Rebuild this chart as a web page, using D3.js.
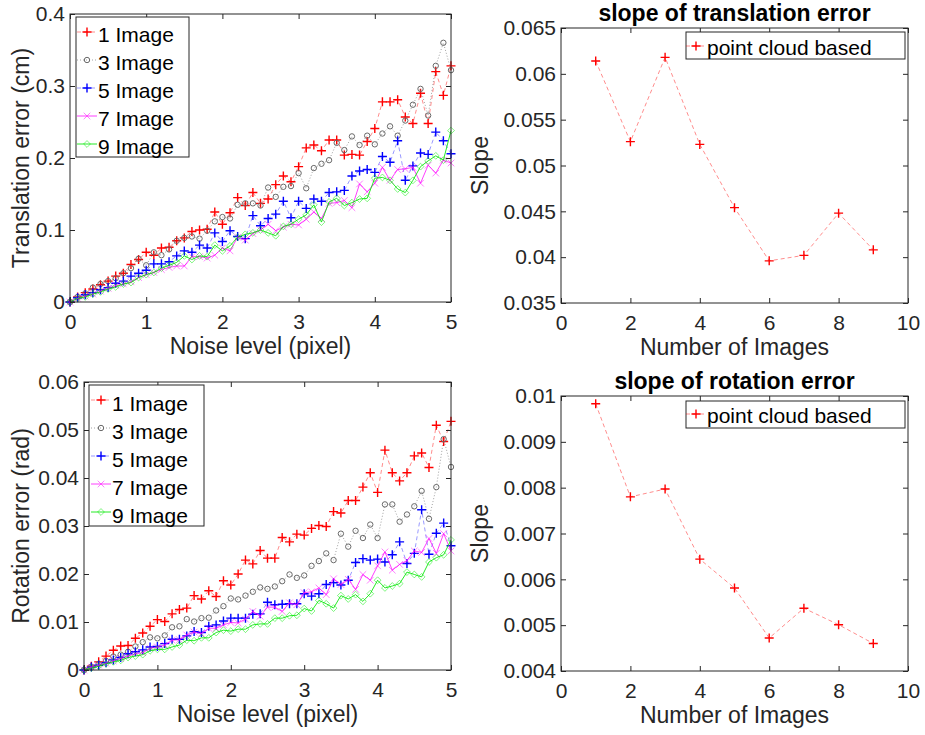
<!DOCTYPE html>
<html>
<head>
<meta charset="utf-8">
<script src="https://cdn.jsdelivr.net/npm/d3@7"></script>
<style>
body { margin: 0; background: #fff; }
svg { display: block; font-family: "Liberation Sans", Arial, sans-serif; }
</style>
</head>
<body>
<div id="chart"></div>
<script>
/*
*    four panels: error vs noise, slope vs number of images
*/

// noise levels (pixel)
const noiseLevel = [0, 0.1, 0.2, 0.3, 0.4, 0.5, 0.6, 0.7, 0.8, 0.9, 1.0,
	1.1, 1.2, 1.3, 1.4, 1.5, 1.6, 1.7, 1.8, 1.9, 2.0,
	2.1, 2.2, 2.3, 2.4, 2.5, 2.6, 2.7, 2.8, 2.9, 3.0,
	3.1, 3.2, 3.3, 3.4, 3.5, 3.6, 3.7, 3.8, 3.9, 4.0,
	4.1, 4.2, 4.3, 4.4, 4.5, 4.6, 4.7, 4.8, 4.9, 5.0];

const seriesNames = ["1 Image", "3 Image", "5 Image", "7 Image", "9 Image"];

// translation error (cm)
const trans1 = [0, 0.007, 0.013, 0.018, 0.024, 0.029, 0.036, 0.040, 0.052, 0.059, 0.069,
	0.065, 0.075, 0.076, 0.085, 0.089, 0.098, 0.100, 0.101, 0.125, 0.108,
	0.124, 0.145, 0.134, 0.152, 0.137, 0.143, 0.163, 0.175, 0.167, 0.188,
	0.214, 0.218, 0.210, 0.225, 0.225, 0.204, 0.205, 0.204, 0.223, 0.241,
	0.278, 0.278, 0.281, 0.257, 0.248, 0.290, 0.248, 0.320, 0.287, 0.328];
const trans3 = [0, 0.007, 0.012, 0.020, 0.025, 0.029, 0.033, 0.040, 0.047, 0.060, 0.051,
	0.069, 0.065, 0.073, 0.085, 0.089, 0.091, 0.088, 0.099, 0.112, 0.118,
	0.116, 0.135, 0.137, 0.137, 0.134, 0.159, 0.146, 0.160, 0.161, 0.179,
	0.158, 0.186, 0.192, 0.197, 0.221, 0.211, 0.230, 0.218, 0.231, 0.219,
	0.234, 0.244, 0.231, 0.252, 0.274, 0.296, 0.259, 0.328, 0.360, 0.322];
const trans5 = [0, 0.006, 0.010, 0.013, 0.017, 0.020, 0.026, 0.029, 0.036, 0.040, 0.044,
	0.053, 0.053, 0.056, 0.064, 0.071, 0.069, 0.079, 0.075, 0.096, 0.084,
	0.099, 0.091, 0.088, 0.120, 0.106, 0.116, 0.122, 0.140, 0.117, 0.140,
	0.130, 0.143, 0.140, 0.152, 0.153, 0.155, 0.175, 0.182, 0.184, 0.180,
	0.202, 0.194, 0.224, 0.169, 0.189, 0.207, 0.205, 0.236, 0.224, 0.206];
const trans7 = [0, 0.005, 0.008, 0.011, 0.015, 0.019, 0.023, 0.025, 0.028, 0.034, 0.038,
	0.041, 0.045, 0.048, 0.050, 0.050, 0.063, 0.063, 0.061, 0.065, 0.075,
	0.071, 0.090, 0.086, 0.095, 0.100, 0.108, 0.099, 0.104, 0.108, 0.107,
	0.115, 0.125, 0.116, 0.137, 0.138, 0.141, 0.131, 0.164, 0.153, 0.165,
	0.187, 0.169, 0.184, 0.185, 0.187, 0.165, 0.190, 0.179, 0.197, 0.193];
const trans9 = [0, 0.005, 0.007, 0.011, 0.014, 0.018, 0.021, 0.025, 0.027, 0.034, 0.038,
	0.041, 0.047, 0.051, 0.055, 0.064, 0.059, 0.064, 0.063, 0.079, 0.071,
	0.078, 0.090, 0.094, 0.096, 0.100, 0.096, 0.092, 0.105, 0.108, 0.115,
	0.121, 0.135, 0.111, 0.139, 0.144, 0.134, 0.138, 0.143, 0.144, 0.172,
	0.173, 0.169, 0.157, 0.152, 0.169, 0.188, 0.196, 0.203, 0.197, 0.238];

// rotation error (rad)
const rot1 = [0, 0.0008, 0.0017, 0.0029, 0.0041, 0.0050, 0.0051, 0.0066, 0.0077, 0.0091, 0.0105,
	0.0101, 0.0117, 0.0126, 0.0129, 0.0155, 0.0148, 0.0165, 0.0153, 0.0186, 0.0177,
	0.0200, 0.0229, 0.0221, 0.0249, 0.0233, 0.0233, 0.0276, 0.0267, 0.0283, 0.0281,
	0.0295, 0.0301, 0.0299, 0.0330, 0.0327, 0.0353, 0.0353, 0.0381, 0.0411, 0.0370,
	0.0458, 0.0411, 0.0394, 0.0411, 0.0446, 0.0452, 0.0422, 0.0510, 0.0476, 0.0518];
const rot3 = [0, 0.0007, 0.0013, 0.0019, 0.0028, 0.0032, 0.0038, 0.0049, 0.0058, 0.0068, 0.0066,
	0.0072, 0.0089, 0.0091, 0.0106, 0.0101, 0.0108, 0.0109, 0.0124, 0.0133, 0.0149,
	0.0147, 0.0155, 0.0163, 0.0172, 0.0169, 0.0174, 0.0185, 0.0199, 0.0192, 0.0197,
	0.0217, 0.0227, 0.0243, 0.0229, 0.0284, 0.0257, 0.0290, 0.0275, 0.0303, 0.0275,
	0.0345, 0.0345, 0.0309, 0.0324, 0.0341, 0.0373, 0.0315, 0.0381, 0.0481, 0.0423];
const rot5 = [0, 0.0006, 0.0010, 0.0015, 0.0021, 0.0026, 0.0034, 0.0038, 0.0042, 0.0048, 0.0049,
	0.0055, 0.0064, 0.0064, 0.0071, 0.0080, 0.0078, 0.0091, 0.0094, 0.0102, 0.0108,
	0.0108, 0.0108, 0.0116, 0.0117, 0.0141, 0.0136, 0.0137, 0.0138, 0.0138, 0.0159,
	0.0154, 0.0159, 0.0178, 0.0182, 0.0177, 0.0187, 0.0224, 0.0232, 0.0229, 0.0231,
	0.0225, 0.0240, 0.0267, 0.0222, 0.0243, 0.0334, 0.0241, 0.0285, 0.0306, 0.0259];
const rot7 = [0, 0.0006, 0.0010, 0.0014, 0.0019, 0.0024, 0.0029, 0.0034, 0.0036, 0.0045, 0.0048,
	0.0052, 0.0062, 0.0063, 0.0073, 0.0079, 0.0076, 0.0087, 0.0087, 0.0094, 0.0099,
	0.0098, 0.0106, 0.0122, 0.0112, 0.0131, 0.0131, 0.0122, 0.0140, 0.0136, 0.0161,
	0.0163, 0.0171, 0.0157, 0.0190, 0.0178, 0.0189, 0.0168, 0.0199, 0.0187, 0.0217,
	0.0246, 0.0208, 0.0220, 0.0228, 0.0248, 0.0245, 0.0274, 0.0243, 0.0284, 0.0248];
const rot9 = [0, 0.0004, 0.0008, 0.0013, 0.0017, 0.0020, 0.0026, 0.0029, 0.0032, 0.0040, 0.0043,
	0.0043, 0.0048, 0.0052, 0.0062, 0.0061, 0.0067, 0.0067, 0.0078, 0.0083, 0.0081,
	0.0085, 0.0085, 0.0094, 0.0096, 0.0096, 0.0108, 0.0108, 0.0113, 0.0114, 0.0128,
	0.0123, 0.0145, 0.0138, 0.0129, 0.0155, 0.0148, 0.0157, 0.0143, 0.0159, 0.0187,
	0.0171, 0.0175, 0.0180, 0.0204, 0.0199, 0.0194, 0.0225, 0.0234, 0.0240, 0.0271];

// slopes vs number of images
const numImages = [1, 2, 3, 4, 5, 6, 7, 8, 9];
const slopeTrans = [0.0614, 0.0526, 0.0618, 0.0523, 0.0454, 0.0396, 0.0402, 0.0448, 0.0408];
const slopeRot = [0.00983, 0.00780, 0.00797, 0.00644, 0.00581, 0.00472, 0.00537, 0.00501, 0.00460];

// tick labels
const noiseTicks = [0, 1, 2, 3, 4, 5];
const imageTicks = [0, 2, 4, 6, 8, 10];
const transTicks = [0, 0.1, 0.2, 0.3, 0.4];
const rotTicks = [0, 0.01, 0.02, 0.03, 0.04, 0.05, 0.06];
const slopeTransTicks = [0.035, 0.04, 0.045, 0.05, 0.055, 0.06, 0.065];
const slopeRotTicks = [0.004, 0.005, 0.006, 0.007, 0.008, 0.009, 0.01];

// line / marker styles
const styles = [
	{ color: "#ff0000", line: "rgba(255,0,0,0.45)", dash: "4,3", marker: "plus", mOpacity: 1 },
	{ color: "#6a6a6a", line: "rgba(100,100,100,0.6)", dash: "1,2", marker: "circle", mOpacity: 1 },
	{ color: "#0000ff", line: "rgba(0,0,255,0.4)", dash: "4,3", marker: "plus", mOpacity: 1 },
	{ color: "#ff00ff", line: "rgba(255,0,255,0.75)", dash: null, marker: "cross", mOpacity: 0.5 },
	{ color: "#00ee00", line: "rgba(0,230,0,0.85)", dash: null, marker: "diamond", mOpacity: 0.5 }
];

const markerPaths = {
	plus: "M-4.5,0H4.5M0,-4.5V4.5",
	cross: "M-3.3,-3.3L3.3,3.3M-3.3,3.3L3.3,-3.3",
	diamond: "M0,-3.4L3.4,0L0,3.4L-3.4,0Z"
};

const width = 925;
const height = 735;
const tickColor = "#262626";

const svg = d3.select("#chart")
	.append("svg")
	.attr("width", width)
	.attr("height", height);

svg.append("rect")
	.attr("width", width)
	.attr("height", height)
	.attr("fill", "#fff");

function fmt(v) {
	return String(+v.toFixed(4));
}

function drawMarker(g, kind, color, opacity) {
	if (kind === "circle") {
		g.append("circle")
			.attr("r", 2.7)
			.attr("fill", "none")
			.attr("stroke", color)
			.attr("stroke-opacity", opacity)
			.attr("stroke-width", 1);
	} else {
		g.append("path")
			.attr("d", markerPaths[kind])
			.attr("fill", "none")
			.attr("stroke", color)
			.attr("stroke-opacity", opacity)
			.attr("stroke-width", kind === "plus" ? 1.4 : 1);
	}
}

function drawPanel(opts) {
	const b = opts.box;
	const x = d3.scaleLinear().domain(opts.xDomain).range([b.left, b.right]);
	const y = d3.scaleLinear().domain(opts.yDomain).range([b.bottom, b.top]);

	const g = svg.append("g");

	// lines + markers
	const line = d3.line().x(d => x(d[0])).y(d => y(d[1]));

	opts.series.forEach((s) => {
		const st = s.style;
		const pts = s.xs.map((v, i) => [v, s.ys[i]]);

		g.append("path")
			.datum(pts)
			.attr("d", line)
			.attr("fill", "none")
			.attr("stroke", st.line)
			.attr("stroke-width", 1)
			.attr("stroke-dasharray", st.dash);

		g.append("g")
			.selectAll("g")
			.data(pts)
			.enter()
			.append("g")
			.attr("transform", d => `translate(${x(d[0])},${y(d[1])})`)
			.each(function () {
				drawMarker(d3.select(this), st.marker, st.color, st.mOpacity);
			});
	});

	// axes (inward ticks on all four sides)
	const axB = g.append("g")
		.attr("transform", `translate(0,${b.bottom})`)
		.call(d3.axisBottom(x).tickValues(opts.xTicks).tickFormat(fmt)
			.tickSizeInner(-5).tickSizeOuter(0).tickPadding(12));
	const axL = g.append("g")
		.attr("transform", `translate(${b.left},0)`)
		.call(d3.axisLeft(y).tickValues(opts.yTicks).tickFormat(fmt)
			.tickSizeInner(-5).tickSizeOuter(0).tickPadding(5));
	const axT = g.append("g")
		.attr("transform", `translate(0,${b.top})`)
		.call(d3.axisTop(x).tickValues(opts.xTicks).tickFormat("")
			.tickSizeInner(-5).tickSizeOuter(0));
	const axR = g.append("g")
		.attr("transform", `translate(${b.right},0)`)
		.call(d3.axisRight(y).tickValues(opts.yTicks).tickFormat("")
			.tickSizeInner(-5).tickSizeOuter(0));

	[axB, axL, axT, axR].forEach(a => {
		a.select(".domain").remove();
		a.selectAll("line").attr("stroke", tickColor);
		a.selectAll("text")
			.attr("fill", tickColor)
			.style("font-size", "21px")
			.style("font-family", "'Liberation Sans', Arial, sans-serif");
	});

	g.append("rect")
		.attr("x", b.left)
		.attr("y", b.top)
		.attr("width", b.right - b.left)
		.attr("height", b.bottom - b.top)
		.attr("fill", "none")
		.attr("stroke", tickColor)
		.attr("stroke-width", 1);

	// axis labels
	g.append("text")
		.attr("x", (b.left + b.right) / 2)
		.attr("y", b.bottom + 52)
		.attr("text-anchor", "middle")
		.attr("fill", tickColor)
		.style("font-size", "23px")
		.text(opts.xLabel);

	g.append("text")
		.attr("transform", "rotate(-90)")
		.attr("x", -(b.top + b.bottom) / 2)
		.attr("y", opts.yLabelX)
		.attr("text-anchor", "middle")
		.attr("fill", tickColor)
		.style("font-size", "23px")
		.text(opts.yLabel);

	if (opts.title) {
		g.append("text")
			.attr("x", (b.left + b.right) / 2)
			.attr("y", b.top - 7)
			.attr("text-anchor", "middle")
			.attr("fill", "#000")
			.style("font-size", "23px")
			.style("font-weight", "bold")
			.text(opts.title);
	}

	// legend
	const lg = opts.legend;
	g.append("rect")
		.attr("x", lg.left)
		.attr("y", lg.top)
		.attr("width", lg.width)
		.attr("height", lg.height)
		.attr("fill", "#fff")
		.attr("stroke", tickColor)
		.attr("stroke-width", 1);

	opts.series.forEach((s, i) => {
		const st = s.style;
		const cy = lg.firstY + i * lg.step;
		g.append("line")
			.attr("x1", lg.lineX0)
			.attr("x2", lg.lineX0 + 20)
			.attr("y1", cy)
			.attr("y2", cy)
			.attr("stroke", st.line)
			.attr("stroke-width", 1)
			.attr("stroke-dasharray", st.dash);
		const mk = g.append("g")
			.attr("transform", `translate(${lg.lineX0 + 10},${cy})`);
		drawMarker(mk, st.marker, st.color, st.mOpacity);
		g.append("text")
			.attr("x", lg.lineX0 + 21)
			.attr("y", cy + lg.textDy)
			.attr("fill", "#000")
			.style("font-size", "21px")
			.text(s.name);
	});
}

const errSeriesT = [trans1, trans3, trans5, trans7, trans9].map((ys, i) => ({
	name: seriesNames[i], xs: noiseLevel, ys: ys, style: styles[i]
}));
const errSeriesR = [rot1, rot3, rot5, rot7, rot9].map((ys, i) => ({
	name: seriesNames[i], xs: noiseLevel, ys: ys, style: styles[i]
}));

drawPanel({
	box: { left: 70, right: 451, top: 14, bottom: 302 },
	xDomain: [0, 5], yDomain: [0, 0.4],
	xTicks: noiseTicks, yTicks: transTicks,
	series: errSeriesT,
	xLabel: "Noise level (pixel)", yLabel: "Translation error (cm)", yLabelX: 29,
	legend: { left: 76, top: 17, width: 113, height: 140, lineX0: 77, firstY: 32, step: 28, textDy: 10 }
});

drawPanel({
	box: { left: 84, right: 451, top: 382, bottom: 670 },
	xDomain: [0, 5], yDomain: [0, 0.06],
	xTicks: noiseTicks, yTicks: rotTicks,
	series: errSeriesR,
	xLabel: "Noise level (pixel)", yLabel: "Rotation error (rad)", yLabelX: 29,
	legend: { left: 89, top: 385, width: 115, height: 141, lineX0: 91, firstY: 400, step: 28, textDy: 10.5 }
});

drawPanel({
	box: { left: 561, right: 908, top: 28, bottom: 303 },
	xDomain: [0, 10], yDomain: [0.035, 0.065],
	xTicks: imageTicks, yTicks: slopeTransTicks,
	series: [{ name: "point cloud based", xs: numImages, ys: slopeTrans, style: styles[0] }],
	xLabel: "Number of Images", yLabel: "Slope", yLabelX: 488,
	title: "slope of translation error",
	legend: { left: 686, top: 32, width: 219, height: 27, lineX0: 686, firstY: 46, step: 28, textDy: 9 }
});

drawPanel({
	box: { left: 561, right: 908, top: 396, bottom: 671 },
	xDomain: [0, 10], yDomain: [0.004, 0.01],
	xTicks: imageTicks, yTicks: slopeRotTicks,
	series: [{ name: "point cloud based", xs: numImages, ys: slopeRot, style: styles[0] }],
	xLabel: "Number of Images", yLabel: "Slope", yLabelX: 488,
	title: "slope of rotation error",
	legend: { left: 686, top: 401, width: 219, height: 27, lineX0: 686, firstY: 414, step: 28, textDy: 9 }
});
</script>
</body>
</html>
